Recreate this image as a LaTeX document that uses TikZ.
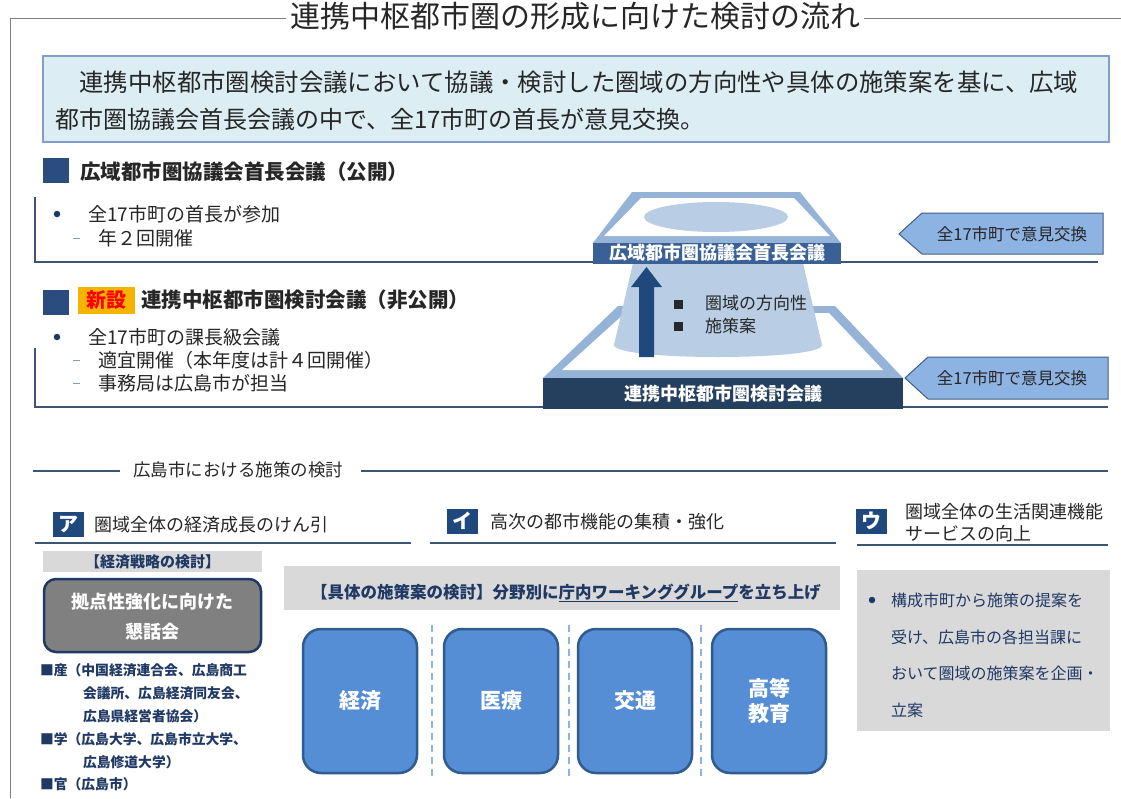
\documentclass[tikz,border=0pt]{standalone}
\usepackage{fontspec}
\setmainfont{Noto Sans CJK JP}
\newcommand\myfs[1]{\fontsize{#1}{#1}\selectfont}
\definecolor{navy}{HTML}{1F3864}
\definecolor{hdr}{HTML}{2B4C7E}
\definecolor{introfill}{HTML}{DCEEF4}
\definecolor{introdraw}{HTML}{7F9FC8}
\definecolor{lineblue}{HTML}{3B5573}
\definecolor{plat}{HTML}{95B3D7}
\definecolor{conec}{HTML}{B9CDE5}
\definecolor{bartop}{HTML}{3A6195}
\definecolor{barbot}{HTML}{253F5F}
\definecolor{arrowc}{HTML}{1F497D}
\definecolor{tagfill}{HTML}{8DB3E2}
\definecolor{tagdraw}{HTML}{3F5E86}
\definecolor{greyband}{HTML}{D9D9D9}
\definecolor{wgfill}{HTML}{558ED5}
\definecolor{wgdraw}{HTML}{2F5B8F}
\definecolor{txt}{HTML}{262626}
\definecolor{dashc}{HTML}{8DB3E2}
\definecolor{shinsetsu}{HTML}{F5B400}
\definecolor{dashmk}{HTML}{8A9BB5}
\begin{document}
\begin{tikzpicture}[x=1pt,y=-1pt,
  every node/.style={inner sep=0pt, outer sep=0pt},
  txt/.style={anchor=west, text=txt},
  hdrsq/.style={fill=hdr, minimum width=26pt, minimum height=25pt},
  bul/.style={circle, fill=navy, minimum size=6.5pt},
  badge/.style={fill=arrowc, text=white, minimum width=31pt, minimum height=25pt, font=\myfs{20}\bfseries},
  rule/.style={lineblue, line width=1.5pt},
  wg/.style={draw=wgdraw, fill=wgfill, line width=2.5pt, rounded corners=18pt, minimum width=114pt, minimum height=144pt, text=white, font=\fontsize{21}{25}\selectfont\bfseries, align=center},
  wgsep/.style={dashc, line width=1.5pt, dash pattern=on 7pt off 5pt},
  tag/.style={fill=tagfill, draw=tagdraw, line width=1pt},
  tagtext/.style={font=\myfs{16.5}, text=txt},
  list/.style={anchor=west, text=navy, font=\myfs{13.8}\bfseries},
  sect/.style={txt, font=\myfs{19}}
]
\useasboundingbox (0,0) rectangle (1121,798);

% ---- frame and title
\node[font=\myfs{30}, text=txt, inner sep=4pt] (title) at (575,16) {連携中枢都市圏の形成に向けた検討の流れ};
\coordinate (tl) at (10,18);
\draw[gray, line width=1pt] (10,798) -- (tl) -- (title.west |- tl);
\draw[gray, line width=1pt] (title.east |- tl) -- (1121,18);

% ---- intro box
\node[draw=introdraw, fill=introfill, line width=2.5pt, minimum width=1066pt, minimum height=86pt, anchor=north west] (intro) at (43,56) {};
\node[txt, font=\myfs{24.4}] (intro1) at (55,82) {　連携中枢都市圏検討会議において協議・検討した圏域の方向性や具体の施策案を基に、広域};
\node[txt, font=\myfs{24}] (intro2) at (55,119) {都市圏協議会首長会議の中で、全17市町の首長が意見交換。};

% ---- section 1
\node[hdrsq] (sq1) at (56,170.5) {};
\node[txt, font=\myfs{20.5}\bfseries] (h1) at (80,172) {広域都市圏協議会首長会議（公開）};
\draw[rule] (35,197) -- (35,262) -- (1098,262);
\node[bul] (bu1) at (57,214) {};
\node[sect] (b11) at (88,214) {全17市町の首長が参加};
\draw[dashmk, line width=1pt] (73,238) -- (80,238);
\node[sect] (b12) at (98,238) {年２回開催};

% ---- section 2
\node[hdrsq] (sq2) at (56,302) {};
\node[fill=shinsetsu, minimum width=57pt, minimum height=27pt, text=red, font=\myfs{20}\bfseries] (new) at (106,300) {新設};
\node[txt, font=\myfs{20.5}\bfseries] (h2) at (141,300) {連携中枢都市圏検討会議（非公開）};
\node[bul] (bu2) at (57,337) {};
\node[sect] (b21) at (88,337) {全17市町の課長級会議};
\draw[dashmk, line width=1pt] (73,360) -- (80,360);
\node[sect] (b22) at (98,360) {適宜開催（本年度は計４回開催）};
\draw[dashmk, line width=1pt] (73,383) -- (80,383);
\node[sect] (b23) at (98,383) {事務局は広島市が担当};
\draw[rule] (35,348) -- (35,407) -- (1108,407);

% ---- pyramid: lower platform
\fill[plat] (618,306) -- (835,306) -- (903,378) -- (543,378) -- cycle;
\fill[white] (625,313) -- (829,313) -- (883,370) -- (562,370) -- cycle;
% cone
\fill[conec] (633,263) -- (614,345) .. controls (614,361) and (822,361) .. (822,345) -- (803,263) -- cycle;
% arrow
\fill[arrowc] (639,357) -- (639,287) -- (631,287) -- (646.5,267) -- (662,287) -- (654,287) -- (654,357) -- cycle;
\node[fill=txt!90!navy, minimum size=9pt] (m1) at (678,304) {};
\node[txt, font=\myfs{17}] (p1) at (705,303) {圏域の方向性};
\node[fill=txt!90!navy, minimum size=9pt] (m2) at (678,326) {};
\node[txt, font=\myfs{17}] (p2) at (705,326) {施策案};
% upper platform
\fill[plat] (632,192) -- (800,192) -- (841,243) -- (593,243) -- cycle;
\fill[white] (641,198) -- (794,198) -- (830,236) -- (604,236) -- cycle;
\fill[conec] (716,217) ellipse [x radius=72, y radius=15];
% bars
\node[fill=bartop, minimum width=248pt, minimum height=21pt, text=white, font=\myfs{18}\bfseries] (bar1) at (717,253) {広域都市圏協議会首長会議};
\node[fill=barbot, minimum width=360pt, minimum height=31pt, text=white, font=\myfs{18}\bfseries] (bar2) at (723,393.5) {連携中枢都市圏検討会議};

% ---- tags
\fill[tag] (899,234) -- (922,213) -- (1103,213) -- (1103,254) -- (922,254) -- cycle;
\node[tagtext] (tag1) at (1012,234) {全17市町で意見交換};
\fill[tag] (905,378) -- (928,357) -- (1108,357) -- (1108,399) -- (928,399) -- cycle;
\node[tagtext] (tag2) at (1012,378) {全17市町で意見交換};

% ---- lower section divider
\draw[rule] (33,471) -- (120,471);
\node[txt, font=\myfs{17.5}] (div) at (133,470) {広島市における施策の検討};
\draw[rule] (361,471) -- (1108,471);

% ---- column headings
\node[badge] (ba) at (68,524) {ア};
\node[txt, font=\myfs{18}] (ha) at (94,525) {圏域全体の経済成長のけん引};
\draw[rule] (35,543) -- (411,543);
\node[badge] (bi) at (462,521) {イ};
\node[txt, font=\myfs{18}] (hi) at (490,522) {高次の都市機能の集積・強化};
\draw[rule] (430,543) -- (836,543);
\node[badge] (bw) at (871,521) {ウ};
\node[txt, font=\myfs{18}] (hw1) at (905,512) {圏域全体の生活関連機能};
\node[txt, font=\myfs{18}] (hw2) at (905,534) {サービスの向上};
\draw[rule] (857,545) -- (1108,545);

% ---- left column
\node[fill=greyband, minimum width=219pt, minimum height=21pt, text=navy, font=\myfs{15}\bfseries] (band1) at (152.5,561.5) {【経済戦略の検討】};
\node[draw=navy, line width=2.5pt, fill=gray, rounded corners=12pt, minimum width=217pt, minimum height=73pt] (kon) at (152.5,615.5) {};
\node[text=white, font=\myfs{18}\bfseries] (kon1) at (152.5,602) {拠点性強化に向けた};
\node[text=white, font=\myfs{18}\bfseries] (kon2) at (152.5,632) {懇話会};
\node[list] (l1) at (40,670) {■産（中国経済連合会、広島商工};
\node[list] (l2) at (83,693) {会議所、広島経済同友会、};
\node[list] (l3) at (83,716) {広島県経営者協会）};
\node[list] (l4) at (40,739) {■学（広島大学、広島市立大学、};
\node[list] (l5) at (83,762) {広島修道大学）};
\node[list] (l6) at (40,784) {■官（広島市）};

% ---- middle column
\node[fill=greyband, minimum width=556pt, minimum height=44pt] (band2) at (562,587.5) {};
\node[text=navy, font=\myfs{16.5}\bfseries] (band2t) at (566,593) {【具体の施策案の検討】分野別に\underline{庁内ワーキンググループ}を立ち上げ};
\node[wg] (w1) at (360,701) {経済};
\node[wg] (w2) at (501,701) {医療};
\node[wg] (w3) at (635,701) {交通};
\node[wg] (w4) at (769,701) {高等\\教育};
\draw[wgsep] (432,625) -- (432,780);
\draw[wgsep] (569,625) -- (569,780);
\draw[wgsep] (701,625) -- (701,780);

% ---- right column
\node[fill=greyband, minimum width=253pt, minimum height=161pt] (rbox) at (983.5,650.5) {};
\node[bul] (bu3) at (872,600) {};
\node[anchor=west, text=navy, font=\myfs{16}] (r1) at (891,600) {構成市町から施策の提案を};
\node[anchor=west, text=navy, font=\myfs{16}] (r2) at (891,637) {受け、広島市の各担当課に};
\node[anchor=west, text=navy, font=\myfs{16}] (r3) at (891,673) {おいて圏域の施策案を企画・};
\node[anchor=west, text=navy, font=\myfs{16}] (r4) at (891,710) {立案};
\end{tikzpicture}
\end{document}
